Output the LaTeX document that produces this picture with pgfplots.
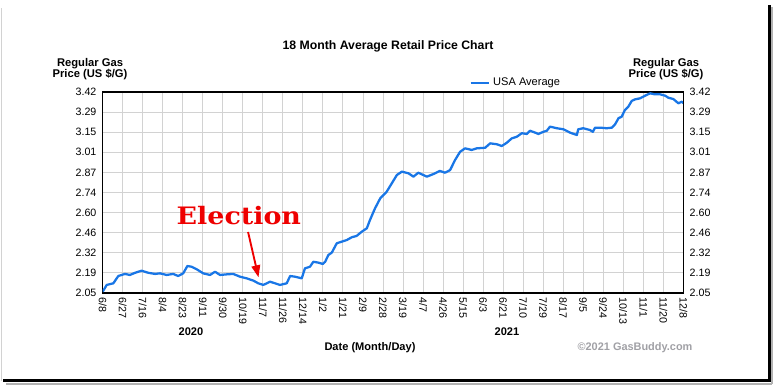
\documentclass[border=0pt]{standalone}
\usepackage{pgfplots}
\pgfplotsset{compat=1.18}
\usepackage{pgfplotstable}
\usepackage{fontspec}
\setmainfont{Liberation Sans}
\newfontfamily\elfont{DejaVu Serif}
\usetikzlibrary{arrows.meta}
\definecolor{gbblue}{RGB}{25,118,230}
\definecolor{gridgray}{RGB}{210,210,210}
\definecolor{elred}{RGB}{238,0,0}
\definecolor{copygray}{RGB}{160,160,165}

\pgfplotstableread{
x y
0 2.059
0.20 2.105
0.53 2.116
0.78 2.166
1.11 2.180
1.36 2.173
1.62 2.188
1.94 2.202
2.27 2.188
2.61 2.180
2.86 2.184
3.19 2.173
3.52 2.180
3.77 2.166
4.02 2.184
4.23 2.234
4.44 2.229
4.69 2.212
5.02 2.184
5.36 2.173
5.61 2.195
5.86 2.173
6.19 2.177
6.52 2.180
6.86 2.161
7.19 2.150
7.53 2.134
7.77 2.116
8.02 2.105
8.36 2.127
8.61 2.116
8.85 2.105
9.19 2.116
9.36 2.166
9.61 2.161
9.94 2.150
10.10 2.218
10.35 2.229
10.52 2.263
10.77 2.257
10.99 2.248
11.11 2.263
11.27 2.309
11.44 2.325
11.69 2.389
11.94 2.400
12.19 2.411
12.44 2.430
12.68 2.439
12.94 2.468
13.19 2.491
13.35 2.548
13.60 2.627
13.86 2.695
14.18 2.740
14.44 2.798
14.69 2.854
14.94 2.877
15.27 2.866
15.52 2.843
15.76 2.870
16.19 2.843
16.52 2.861
16.84 2.882
17.10 2.870
17.35 2.888
17.60 2.957
17.85 3.013
18.10 3.036
18.43 3.025
18.68 3.036
19.10 3.040
19.35 3.070
19.68 3.064
19.93 3.052
20.18 3.074
20.43 3.104
20.68 3.115
20.93 3.139
21.18 3.134
21.34 3.156
21.60 3.143
21.76 3.134
22.01 3.149
22.18 3.156
22.34 3.184
22.68 3.173
23.01 3.166
23.34 3.143
23.68 3.127
23.75 3.166
24.00 3.173
24.33 3.161
24.48 3.149
24.59 3.177
24.84 3.177
25.17 3.173
25.43 3.177
25.59 3.200
25.76 3.241
25.92 3.252
26.08 3.297
26.25 3.320
26.42 3.359
26.59 3.370
26.84 3.377
27.09 3.395
27.34 3.411
27.58 3.404
27.84 3.404
28.09 3.395
28.25 3.381
28.50 3.372
28.75 3.343
28.92 3.354
29.00 3.345
}\gasdata

\begin{document}
\begin{tikzpicture}[x=0.75pt,y=0.75pt]
\path (0,0) rectangle (776,387);
% frame
\draw[gray!35, line width=0.75pt] (1,379) -- (1,6);
\draw[gray!60, line width=1.5pt] (772,380) -- (772,3) ;
\draw[gray!60, line width=1.5pt] (6,3.5) -- (772,3.5);
\draw[black, line width=2.4pt] (769.3,382) -- (769.3,6.3);
\draw[black, line width=2.4pt] (3,6.3) -- (770.5,6.3);

\begin{axis}[
  at={(77.03pt,70.5pt)}, anchor=south west,
  scale only axis, width=435.5pt, height=150.75pt,
  xmin=0, xmax=29, ymin=2.05, ymax=3.42,
  xtick={0,...,29},
  xticklabels={6/8,6/27,7/16,8/4,8/23,9/11,9/30,10/19,11/7,11/26,12/14,1/2,1/21,2/9,2/28,3/19,4/7,4/26,5/15,6/3,6/21,7/10,7/29,8/17,9/5,9/24,10/13,11/1,11/20,12/8},
  ytick={2.05,2.187,2.324,2.461,2.598,2.735,2.872,3.009,3.146,3.283,3.42},
  yticklabels={2.05,2.19,2.32,2.46,2.60,2.74,2.87,3.01,3.15,3.29,3.42},
  grid=major, major grid style={gridgray, line width=0.75pt},
  major tick length=0pt,
  axis line style={black, line width=0.8pt},
  /pgf/number format/assume math mode=true,
  tick label style={font=\fontsize{8}{8}\selectfont},
  x tick label style={rotate=-90, anchor=west},
  y tick label style={xshift=-1.2pt},
  legend style={at={(0.712,1.045)}, anchor=center, draw=none, fill=none,
    font=\fontsize{8.3}{8.3}\selectfont, inner sep=0pt},
  legend image code/.code={\draw[#1] (0pt,0pt) -- (14pt,0pt);},
]
\addplot[gbblue, line width=1.7pt, line join=round] table {\gasdata};
\addlegendentry{USA Average}
\node[elred, font=\elfont\bfseries\fontsize{18}{18}\selectfont, xscale=1.12] at (axis cs:6.8,2.58) {Election};
\draw[elred, line width=1.4pt, -{Triangle[length=9pt,width=6.5pt]}] (axis cs:7.26,2.466) -- (axis cs:7.78,2.157);
\end{axis}

\begin{axis}[
  at={(77.03pt,70.5pt)}, anchor=south west,
  scale only axis, width=435.5pt, height=150.75pt,
  xmin=0, xmax=29, ymin=2.05, ymax=3.42,
  axis x line=none, axis y line*=right,
  ytick={2.05,2.187,2.324,2.461,2.598,2.735,2.872,3.009,3.146,3.283,3.42},
  yticklabels={2.05,2.19,2.32,2.46,2.60,2.74,2.87,3.01,3.15,3.29,3.42},
  major tick length=0pt,
  axis line style={black, line width=0.8pt},
  /pgf/number format/assume math mode=true,
  tick label style={font=\fontsize{8}{8}\selectfont},
  y tick label style={xshift=1.2pt},
]
\end{axis}

\node[font=\bfseries\fontsize{9.2}{9.2}\selectfont] at (388,341) {18 Month Average Retail Price Chart};
\node[font=\bfseries\fontsize{8.4}{8.6}\selectfont, align=center] at (90,318) {Regular Gas\\Price (US \$/G)};
\node[font=\bfseries\fontsize{8.4}{8.6}\selectfont, align=center] at (666,318) {Regular Gas\\Price (US \$/G)};
\node[font=\bfseries\fontsize{8.3}{8.3}\selectfont] at (191,55) {2020};
\node[font=\bfseries\fontsize{8.3}{8.3}\selectfont] at (507,55) {2021};
\node[font=\bfseries\fontsize{8.3}{8.3}\selectfont] at (370,39) {Date (Month/Day)};
\node[font=\bfseries\fontsize{8.2}{8.2}\selectfont, text=copygray] at (635,39) {©2021 GasBuddy.com};
\end{tikzpicture}
\end{document}
